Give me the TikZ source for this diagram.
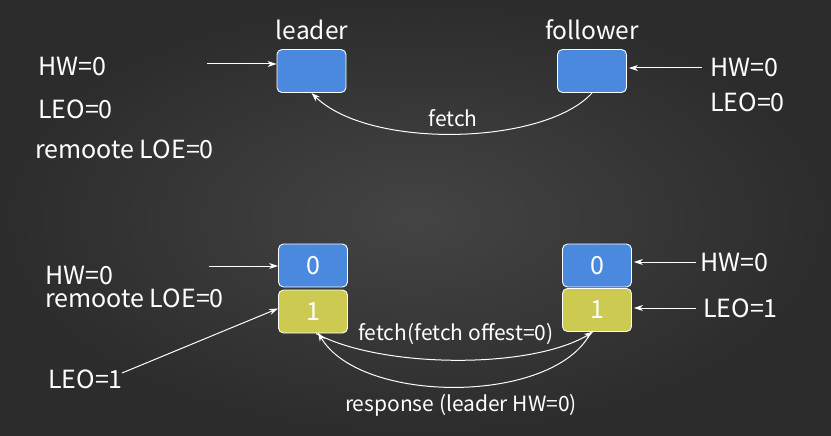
\documentclass[tikz,border=0pt]{standalone}
\usepackage{fontspec}
\setmainfont{Noto Sans CJK SC}
\usetikzlibrary{arrows.meta}
\definecolor{bgmid}{RGB}{68,68,68}
\definecolor{bgedge}{RGB}{44,44,44}
\definecolor{cellblue}{RGB}{74,137,222}
\definecolor{cellyellow}{RGB}{204,202,80}
\begin{document}
\begin{tikzpicture}[x=1pt,y=-1pt,
  cell/.style={draw=white, line width=0.9pt, rounded corners=5pt,
    minimum width=69pt, minimum height=43pt, inner sep=0pt, text=white,
    font=\fontsize{25}{25}\selectfont},
  hwcell/.style={cell, fill=cellblue},
  leocell/.style={cell, fill=cellyellow},
  lbl/.style={text=white, font=\fontsize{25}{27}\selectfont, inner sep=0pt, anchor=west},
  title/.style={text=white, font=\fontsize{24.5}{26}\selectfont, inner sep=0pt},
  small/.style={text=white, font=\fontsize{21}{22}\selectfont, inner sep=0pt},
  wire/.style={draw=white, line width=1pt, -{Stealth[length=9pt,width=6pt]}}
]
% background
\shade[inner color=bgmid, outer color=bgedge] (0,0) rectangle (831,436);
\useasboundingbox (0,0) rectangle (831,436);

% ---------- first state ----------
\node[hwcell] (L1) at (311.5,71) {};
\node[hwcell] (F1) at (592,71) {};
\node[title] (tL) at (312,30) {leader};
\node[title] (tF) at (592,30) {follower};

\node[lbl] (l1hw) at (38,67) {HW=0};
\node[lbl] (l1leo) at (38,109) {LEO=0};
\node[lbl] (l1rem) at (35,149) {remoote LOE=0};
\node[lbl] (f1hw) at (710,68) {HW=0};
\node[lbl] (f1leo) at (710,102) {LEO=0};

\coordinate (a1) at (207,64);
\draw[wire] (a1) -- (a1 -| L1.west);
\coordinate (b1) at (702,68);
\draw[wire] (b1) -- ([xshift=2pt]b1 -| F1.east);

\draw[wire] (F1.south) .. controls (545,145) and (370,150) .. (L1.south);
\node[small] (fetch1) at (453,118) {fetch};

% ---------- second state ----------
\node[hwcell] (L2a) at (313,265.5) {0};
\node[leocell] (L2b) at (313,311.5) {1};
\node[hwcell] (F2a) at (597,265.5) {0};
\node[leocell] (F2b) at (597,310) {1};

\node[lbl] (l2hw) at (45,275) {HW=0};
\node[lbl] (l2rem) at (45,298) {remoote LOE=0};
\node[lbl] (l2leo) at (48,379) {LEO=1};
\node[lbl] (f2hw) at (700,262) {HW=0};
\node[lbl] (f2leo) at (703,308) {LEO=1};

\coordinate (a2) at (209,266);
\draw[wire] (a2) -- (a2 -| L2a.west);
\coordinate (a3) at (122,373);
\draw[wire] (a3) -- ([yshift=3pt]L2b.west);
\coordinate (b2) at (696,262);
\draw[wire] (b2) -- ([xshift=2pt]b2 -| F2a.east);
\coordinate (b3) at (696,308);
\draw[wire] (b3) -- ([xshift=2pt]b3 -| F2b.east);

\draw[wire] ([xshift=3pt]L2b.south) .. controls (380,368) and (530,370) .. ([xshift=-4pt]F2b.south);
\draw[wire] ([xshift=-6pt]F2b.south) .. controls (555,405) and (360,405) .. ([xshift=5pt,yshift=1pt]L2b.south);
\node[small] (fetch2) at (456,334) {fetch(fetch offest=0)};
\node[small] (resp) at (461,405) {response (leader HW=0)};
\end{tikzpicture}
\end{document}
